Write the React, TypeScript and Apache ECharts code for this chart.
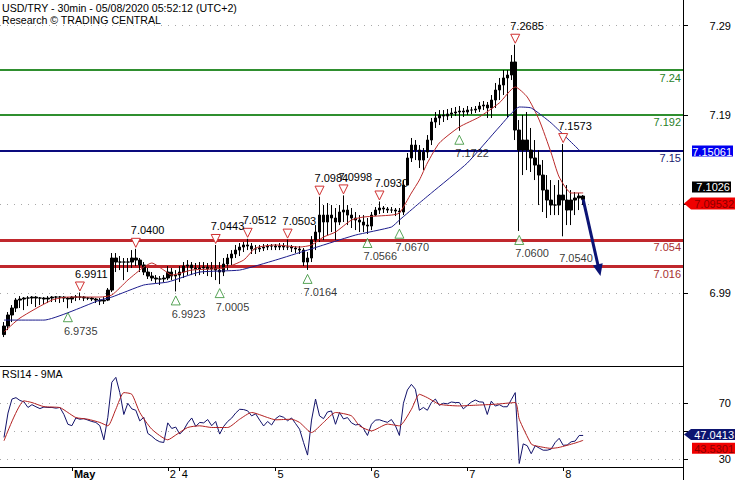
import { useEffect, useRef } from 'react';
import * as echarts from 'echarts';

const FONT = '"Liberation Sans", Arial, Helvetica, sans-serif';
const NAVY = '#0c1475';

// hourly slots on the time axis (slot 18 = 1 May 00:00)
const slotCount = 172;
const categories = Array.from({ length: slotCount }, (_, i) => `s${i}`);
const dayStartSlots = [18, 42, 45, 69, 93, 117, 141];
const dayLabels = ['May', '2', '4', '5', '6', '7', '8'];

// grid/tick levels, and the tick labels left visible (7.09 and 50 sit under value tags)
const priceTicks = [6.99, 7.09, 7.19, 7.29];
const priceTickLabels = [6.99, 7.19, 7.29];
const rsiTicks = [30, 50, 70];
const rsiTickLabels = [30, 70];

// candles start at slot 1
const firstSlot = 1;
const firstOpen = 6.944;
const closes = [
  6.9535, 6.9659, 6.9737, 6.9826, 6.9838, 6.9849, 6.9849, 6.986, 6.9849, 6.9849,
  6.9838, 6.9849, 6.986, 6.986, 6.986, 6.9849, 6.9838, 6.986, 6.986, 6.986,
  6.9849, 6.9849, 6.9838, 6.9826, 6.9815, 6.9826, 6.9938, 7.0297, 7.0252, 7.0252,
  7.0252, 7.0252, 7.0297, 7.0274, 7.0219, 7.014, 7.0095, 7.0073, 7.0062, 7.0062,
  7.0073, 7.014, 7.0095, 7.0106, 7.014, 7.0207, 7.0219, 7.0185, 7.0174, 7.0185,
  7.0196, 7.0174, 7.0185, 7.0162, 7.014, 7.023, 7.0297, 7.0342, 7.0386, 7.042,
  7.0443, 7.0431, 7.0398, 7.0398, 7.0409, 7.042, 7.0431, 7.0431, 7.042, 7.0431,
  7.042, 7.042, 7.0409, 7.0398, 7.0386, 7.0252, 7.0297, 7.0498, 7.0588, 7.0778,
  7.07, 7.0778, 7.0745, 7.07, 7.0812, 7.0834, 7.0778, 7.0745, 7.0722, 7.07,
  7.0666, 7.0655, 7.0778, 7.0834, 7.0857, 7.0846, 7.0834, 7.0834, 7.0823, 7.0812,
  7.1114, 7.1417, 7.1562, 7.1506, 7.1394, 7.1484, 7.1618, 7.182, 7.1865, 7.1898,
  7.1887, 7.1909, 7.1921, 7.1932, 7.1943, 7.1932, 7.1954, 7.1954, 7.1965, 7.1999,
  7.201, 7.1977, 7.2066, 7.2178, 7.2234, 7.2313, 7.2346, 7.2492, 7.173, 7.1506,
  7.1618, 7.1506, 7.1417, 7.1338, 7.1226, 7.1058, 7.0946, 7.089, 7.089, 7.1002,
  7.0946, 7.0834, 7.0946, 7.0969, 7.0991, 7.09532,
];
const highs = [
  6.958, 6.9692, 6.977, 6.9849, 6.9871, 6.986, 6.9871, 6.9871, 6.9871, 6.986,
  6.986, 6.9871, 6.9871, 6.9871, 6.9871, 6.9871, 6.986, 6.9871, 6.9883, 6.9911,
  6.9871, 6.986, 6.986, 6.9849, 6.9849, 6.986, 6.9961, 7.0353, 7.0353, 7.0319,
  7.0297, 7.0297, 7.0386, 7.04, 7.0297, 7.0252, 7.0185, 7.014, 7.0106, 7.0095,
  7.0106, 7.0207, 7.0185, 7.0162, 7.0207, 7.0252, 7.0274, 7.0252, 7.0241, 7.0252,
  7.0252, 7.0241, 7.0252, 7.0443, 7.0252, 7.0297, 7.0342, 7.0386, 7.0443, 7.0465,
  7.0476, 7.0512, 7.0465, 7.0443, 7.0443, 7.0454, 7.0454, 7.0454, 7.0454, 7.0465,
  7.0465, 7.0503, 7.0443, 7.0431, 7.0431, 7.0409, 7.0364, 7.0543, 7.0666, 7.0984,
  7.089, 7.0913, 7.089, 7.0857, 7.089, 7.0998, 7.089, 7.0857, 7.0812, 7.0778,
  7.0778, 7.0745, 7.0812, 7.0868, 7.093, 7.0879, 7.0868, 7.0868, 7.0857, 7.0857,
  7.117, 7.1473, 7.1641, 7.1618, 7.1562, 7.1529, 7.1674, 7.1865, 7.1932, 7.1954,
  7.1954, 7.1965, 7.1977, 7.1988, 7.1999, 7.1977, 7.1999, 7.1988, 7.1999, 7.2044,
  7.2055, 7.2044, 7.2122, 7.2257, 7.2313, 7.2402, 7.2402, 7.257, 7.2685, 7.1842,
  7.1898, 7.1932, 7.1753, 7.1618, 7.1506, 7.1394, 7.1226, 7.117, 7.1114, 7.117,
  7.1573, 7.1114, 7.1058, 7.1036, 7.1025, 7.1002,
];
const lows = [
  6.9412, 6.949, 6.958, 6.9692, 6.9737, 6.9714, 6.9759, 6.9782, 6.9748, 6.977,
  6.9782, 6.9793, 6.9804, 6.9804, 6.9793, 6.9804, 6.9735, 6.9793, 6.9815, 6.9826,
  6.9815, 6.9826, 6.9815, 6.9793, 6.977, 6.9782, 6.9815, 6.9916, 7.014, 7.0162,
  7.005, 7.014, 7.0185, 7.0207, 7.014, 7.0106, 7.0062, 7.0039, 7.0017, 6.9995,
  7.0028, 7.005, 7.005, 6.9923, 7.0028, 7.0073, 7.0106, 7.0106, 7.0095, 7.0106,
  7.0118, 7.0095, 7.0084, 7.005, 7.0005, 7.0095, 7.0162, 7.0219, 7.0297, 7.0319,
  7.0364, 7.0386, 7.0342, 7.0342, 7.0364, 7.0375, 7.0386, 7.0386, 7.0386, 7.0386,
  7.0386, 7.0386, 7.0364, 7.0353, 7.0342, 7.0207, 7.0164, 7.0252, 7.0386, 7.0476,
  7.0498, 7.0554, 7.0588, 7.0498, 7.0666, 7.07, 7.0666, 7.0633, 7.061, 7.0588,
  7.0588, 7.0566, 7.061, 7.0767, 7.079, 7.0801, 7.0801, 7.0801, 7.0767, 7.067,
  7.0778, 7.1114, 7.1372, 7.1394, 7.1305, 7.1282, 7.1417, 7.1562, 7.1753, 7.1786,
  7.182, 7.1842, 7.1865, 7.1887, 7.1722, 7.1876, 7.1898, 7.1909, 7.1921, 7.1932,
  7.1954, 7.1865, 7.1865, 7.1977, 7.2066, 7.2122, 7.1865, 7.229, 7.1618, 7.06,
  7.1226, 7.1282, 7.126, 7.117, 7.089, 7.0812, 7.0745, 7.0778, 7.0778, 7.0778,
  7.054, 7.0666, 7.0666, 7.0778, 7.0834, 7.089,
];

// moving averages: [slot, value]
const maFast = [
  [1, 6.9468], [5, 6.9625], [13, 6.9826], [17, 6.986], [25, 6.986], [28, 6.9883],
  [32, 7.005], [36, 7.0196], [38, 7.0241], [41, 7.0162], [43, 7.0106], [48, 7.0162],
  [56, 7.0185], [61, 7.0274], [64, 7.0409], [69, 7.0443], [75, 7.042], [78, 7.0443],
  [81, 7.0532], [84, 7.0588], [88, 7.0722], [91, 7.0756], [98, 7.0778], [100, 7.0801],
  [103, 7.1025], [105, 7.117], [107, 7.1361], [110, 7.1585], [115, 7.1764], [120, 7.1876],
  [125, 7.2033], [129, 7.2212], [132, 7.21], [135, 7.1842], [138, 7.1473], [140, 7.1204],
  [143, 7.1025], [146, 7.1026],
];
const maSlow = [
  [1, 6.9602], [11, 6.9602], [25, 6.9826], [28, 6.986], [36, 6.9995], [42, 7.0028],
  [50, 7.014], [60, 7.0162], [69, 7.0274], [77, 7.0386], [81, 7.0443], [89, 7.0554],
  [98, 7.0644], [100, 7.0722], [105, 7.0913], [108, 7.1025], [117, 7.1361], [125, 7.1764],
  [130, 7.1988], [133, 7.1977], [138, 7.1809], [145, 7.15061],
];

const rsi = [
  45.6, 63, 73, 74, 72, 71, 67, 69, 67.5, 66.2,
  67.3, 67, 67, 66.5, 67, 62, 55, 54, 59.5, 58.6,
  59, 58, 57, 56.3, 54, 43.9, 60, 85, 88.5, 77.6,
  62, 70, 66, 65, 57.4, 60, 48.5, 46.5, 44, 42.5,
  42, 56, 52, 53, 48, 51, 56, 59.5, 53.5, 56.3,
  56, 58.4, 54, 57, 48, 53.5, 57, 59.4, 63, 65.7,
  65.5, 64.6, 61, 62.5, 58, 53.8, 57, 54.5, 59, 61,
  60, 57.5, 59.5, 55.5, 51.5, 42, 33, 58, 73, 61,
  59, 63.8, 64.5, 55, 63.4, 58.8, 59.8, 56, 54.5, 55,
  52, 47, 55, 58, 58.2, 57.2, 56.4, 58.4, 54, 47,
  70, 79.5, 83.5, 80, 65, 67, 65, 70.5, 73, 68.5,
  70, 69.6, 70.9, 70.5, 70.5, 66, 68.5, 70.8, 72.3, 71,
  70.8, 62, 71.5, 68, 69, 67.5, 67.5, 72.5, 77.6, 27,
  41, 39.7, 34, 39.7, 38, 36.5, 36.5, 37.3, 42, 45,
  40, 40.2, 42.5, 43, 47, 47.0413,
];
const rsiMA = [
  [1, 43.2], [6, 71.7], [8, 70.5], [11, 67.6], [15, 66.9], [17, 63.4], [19, 59.8],
  [22, 58.6], [25, 56.3], [27, 53.9], [29, 65.7], [31, 77.6], [33, 76.4], [35, 63.4],
  [38, 51.5], [42, 43.9], [44, 47.3], [47, 52.7], [50, 53.9], [53, 52.7], [57, 52.7],
  [60, 58.6], [63, 63.4], [67, 59.8], [69, 58.2], [73, 58.6], [75, 56.3], [78, 49.1],
  [81, 56.3], [84, 63.4], [88, 61], [90, 53.9], [93, 50.3], [97, 55.1], [100, 53.9],
  [103, 65.7], [105, 76.4], [107, 74], [110, 69.3], [115, 68.1], [119, 68.6], [124, 69.3],
  [129, 70.5], [130, 58.6], [133, 40.9], [134, 39.7], [138, 37.8], [140, 38.5],
  [144, 41.6], [146, 43.5301],
];

// support / resistance levels
const levels = [7.24, 7.192, 7.15, 7.054, 7.016];
const levelColors = ['#2f8f2f', '#2f8f2f', '#0a0a7d', '#c0282d', '#c0282d'];
const levelTextColors = ['#2a7f2a', '#2a7f2a', '#1a1a6e', '#a83030', '#a83030'];
const levelWidths = [2, 2, 2, 3, 3];

// pivots
const pivotHighSlot = [20, 34, 54, 62, 72, 80, 86, 95, 129, 141];
const pivotHighVal = [6.9911, 7.04, 7.0443, 7.0512, 7.0503, 7.0984, 7.0998, 7.093, 7.2685, 7.1573];
const pivotLowSlot = [17, 44, 55, 77, 92, 100, 115, 130, 141];
const pivotLowVal = [6.9735, 6.9923, 7.0005, 7.0164, 7.0566, 7.067, 7.1722, 7.06, 7.054];
const pivotLowMarked = [true, true, true, true, true, true, true, true, false];

// forecast arrow
const forecastSlot = [146, 150];
const forecastVal = [7.09532, 7.016];

const cat = (i: number) => categories[i];

function buildOption() {
  const candles = closes.map((c, k) => {
    const open = k === 0 ? firstOpen : closes[k - 1];
    return [cat(firstSlot + k), open, c, lows[k], highs[k]];
  });
  const rsiData = rsi.map((v, k) => [cat(firstSlot + k), v]);
  const pairs = (arr: number[][]) => arr.map(([i, v]) => [cat(i), v]);
  const showDay = (idx: number) => dayStartSlots.indexOf(idx) >= 0;
  const txt = { fontFamily: FONT, fontSize: 11, color: '#000' };

  return {
    animation: false,
    backgroundColor: '#ffffff',
    textStyle: { fontFamily: FONT },
    title: [
      {
        text: 'USD/TRY - 30min - 05/08/2020 05:52:12 (UTC+2)\nResearch © TRADING CENTRAL',
        left: 2, top: 2, padding: 0,
        textStyle: { ...txt, fontSize: 10.6, fontWeight: 'normal', lineHeight: 12 },
      },
      {
        text: 'RSI14 - 9MA', left: 2, top: 368, padding: 0,
        textStyle: { ...txt, fontSize: 10.6, fontWeight: 'normal', lineHeight: 12 },
      },
    ],
    grid: [
      { left: 0, right: 52, top: 0, height: 366, outerBoundsMode: 'none' },
      { left: 0, right: 52, top: 366, height: 101, outerBoundsMode: 'none' },
    ],
    xAxis: [
      {
        type: 'category', gridIndex: 0, data: categories, boundaryGap: false,
        axisLine: { show: true, lineStyle: { color: '#000', width: 1 } },
        axisTick: { show: false }, axisLabel: { show: false }, splitLine: { show: false },
      },
      {
        type: 'category', gridIndex: 1, data: categories, boundaryGap: false,
        axisLine: { show: true, lineStyle: { color: '#000', width: 1 } },
        axisTick: { show: true, interval: showDay, length: 4, lineStyle: { color: '#000' } },
        axisLabel: {
          show: true, interval: showDay, align: 'left', margin: 1, padding: [0, 0, 0, 2],
          ...txt,
          formatter: (_v: string, idx: number) => {
            const k = dayStartSlots.indexOf(idx);
            if (k < 0) return '';
            return k === 0 ? `{b|${dayLabels[k]}}` : dayLabels[k];
          },
          rich: { b: { ...txt, fontWeight: 'bold' } },
        },
        splitLine: { show: false },
      },
    ],
    yAxis: [
      {
        type: 'value', gridIndex: 0, position: 'right', min: 6.9088, max: 7.3186, scale: true,
        axisLine: { show: true, lineStyle: { color: '#000', width: 1 } },
        axisTick: { show: true, length: 5, customValues: priceTicks, lineStyle: { color: '#000' } },
        axisLabel: {
          show: true, customValues: priceTickLabels, align: 'right', margin: 48, ...txt,
          formatter: (v: number) => v.toFixed(2),
        },
        splitLine: { show: true, lineStyle: { color: '#a8a8a8', width: 1, type: [1, 6] } },
      },
      {
        type: 'value', gridIndex: 1, position: 'right', min: 24.5, max: 96.6,
        axisLine: { show: true, lineStyle: { color: '#000', width: 1 } },
        axisTick: { show: true, length: 5, customValues: rsiTicks, lineStyle: { color: '#000' } },
        axisLabel: {
          show: true, customValues: rsiTickLabels, align: 'right', margin: 48, ...txt,
          formatter: (v: number) => String(Math.round(v)),
        },
        splitLine: { show: true, lineStyle: { color: '#a8a8a8', width: 1, type: [1, 6] } },
      },
    ],
    series: [
      {
        type: 'candlestick', name: 'USD/TRY', xAxisIndex: 0, yAxisIndex: 0, z: 3,
        data: candles, encode: { x: 0, y: [1, 2, 3, 4] },
        barWidth: 3,
        itemStyle: { color: '#000', color0: '#000', borderColor: '#000', borderColor0: '#000', borderWidth: 1 },
        silent: true,
        markLine: {
          silent: true, symbol: ['none', 'none'], z: 1,
          data: levels.map((v, k) => ({
            yAxis: v,
            lineStyle: { color: levelColors[k], width: levelWidths[k], type: 'solid' },
            label: {
              show: true, position: 'insideEndBottom', distance: 2,
              formatter: () => String(v), color: levelTextColors[k], fontSize: 11, fontFamily: FONT,
            },
          })),
        },
      },
      {
        type: 'line', name: 'MA fast', xAxisIndex: 0, yAxisIndex: 0, z: 4,
        data: pairs(maFast), showSymbol: false, symbol: 'none', smooth: 0.2,
        lineStyle: { color: '#bb2a2a', width: 1 }, silent: true,
        markLine: {
          silent: true, symbol: ['none', 'triangle'], symbolSize: [10, 12],
          lineStyle: { color: NAVY, width: 3, type: 'solid' },
          label: { show: false },
          data: [[
            { coord: [cat(forecastSlot[0]), forecastVal[0]] },
            { coord: [cat(forecastSlot[1]), forecastVal[1]] },
          ]],
        },
      },
      {
        type: 'line', name: 'MA slow', xAxisIndex: 0, yAxisIndex: 0, z: 4,
        data: pairs(maSlow), showSymbol: false, symbol: 'none', smooth: 0.15,
        lineStyle: { color: '#1c1c8c', width: 1 }, silent: true,
      },
      {
        type: 'scatter', name: 'pivot highs', xAxisIndex: 0, yAxisIndex: 0, z: 6, clip: false,
        data: pivotHighSlot.map((i, k) => [cat(i), pivotHighVal[k]]),
        symbol: 'path://M0,0L10,0L5,9Z', symbolSize: [9, 9], symbolOffset: [0, -6],
        itemStyle: { color: '#ffffff', borderColor: '#d03030', borderWidth: 1, opacity: 1 },
        label: {
          show: true, position: 'top', distance: 2, align: 'left', offset: [-5, 0],
          ...txt, formatter: (p: any) => Number(p.value[1]).toFixed(4),
        },
        silent: true,
      },
      {
        type: 'scatter', name: 'pivot lows', xAxisIndex: 0, yAxisIndex: 0, z: 6, clip: false,
        data: pivotLowSlot.map((i, k) => ({
          value: [cat(i), pivotLowVal[k]],
          itemStyle: pivotLowMarked[k]
            ? { color: '#ffffff', borderColor: '#2f8f2f', borderWidth: 1 }
            : { color: 'rgba(0,0,0,0)', borderColor: 'rgba(0,0,0,0)', borderWidth: 0 },
        })),
        symbol: 'path://M5,0L10,9L0,9Z', symbolSize: [9, 9], symbolOffset: [0, 9],
        label: {
          show: true, position: 'bottom', distance: 3, align: 'left', offset: [-4, 0],
          ...txt, formatter: (p: any) => Number(p.value[1]).toFixed(4),
        },
        silent: true,
      },
      {
        type: 'line', name: 'RSI14', xAxisIndex: 1, yAxisIndex: 1, z: 4,
        data: rsiData, showSymbol: false, symbol: 'none',
        lineStyle: { color: '#12126a', width: 1 }, silent: true,
      },
      {
        type: 'line', name: 'RSI 9MA', xAxisIndex: 1, yAxisIndex: 1, z: 5,
        data: pairs(rsiMA), showSymbol: false, symbol: 'none', smooth: 0.2,
        lineStyle: { color: '#b22020', width: 1 }, silent: true,
      },
    ],
  };
}

// value tags on the right scale (last values of the series)
const tagDefs = [
  { axis: 0, value: maSlow[maSlow.length - 1][1], kind: 'rect', x0: 692, x1: 733, h: 11, bg: '#0000f0', fg: '#ffffff', dy: 1 },
  { axis: 0, value: maFast[maFast.length - 1][1], kind: 'rect', x0: 692, x1: 731, h: 11, bg: '#000000', fg: '#ffffff', dy: -6 },
  { axis: 0, value: closes[closes.length - 1], kind: 'arrow', x0: 684, x1: 735, h: 12, bg: '#f00000', fg: '#8a0000', dy: 4 },
  { axis: 1, value: rsi[rsi.length - 1], kind: 'arrow', x0: 684, x1: 735, h: 11, bg: '#0c1470', fg: '#ffffff', dy: -1 },
  { axis: 1, value: rsiMA[rsiMA.length - 1][1], kind: 'rect', x0: 692, x1: 735, h: 11, bg: '#f00000', fg: '#8a0000', dy: 8 },
];

export default function App() {
  const ref = useRef<HTMLDivElement>(null);
  useEffect(() => {
    if (!ref.current) return;
    const chart = echarts.init(ref.current, null, { renderer: 'svg' });
    chart.setOption(buildOption() as any);
    const gfx: any[] = [];
    tagDefs.forEach((t) => {
      const py = chart.convertToPixel({ yAxisIndex: t.axis } as any, t.value) as unknown as number;
      const y = py + t.dy;
      const hh = t.h / 2;
      if (t.kind === 'arrow') {
        gfx.push({
          type: 'polygon', z: 20,
          shape: { points: [[t.x0, y], [t.x0 + 7, y - hh], [t.x1, y - hh], [t.x1, y + hh], [t.x0 + 7, y + hh]] },
          style: { fill: t.bg },
        });
      } else {
        gfx.push({ type: 'rect', z: 20, shape: { x: t.x0, y: y - hh, width: t.x1 - t.x0, height: t.h }, style: { fill: t.bg } });
      }
      const textRight = t.x1 - 1;
      gfx.push({
        type: 'text', z: 21, x: textRight, y: y + 0.5,
        style: {
          text: String(t.value), fill: t.fg, font: `11px ${FONT}`,
          align: 'right', verticalAlign: 'middle', textAlign: 'right', textVerticalAlign: 'middle',
        },
      });
    });
    gfx.push({
      type: 'line', z: 20,
      shape: { x1: 683.5, y1: 466, x2: 683.5, y2: 480 },
      style: { stroke: '#000', lineWidth: 1 },
    });
    chart.setOption({ graphic: gfx } as any);
    return () => chart.dispose();
  }, []);
  return <div ref={ref} style={{ position: 'absolute', left: 0, top: 0, width: 735, height: 480 }} />;
}
